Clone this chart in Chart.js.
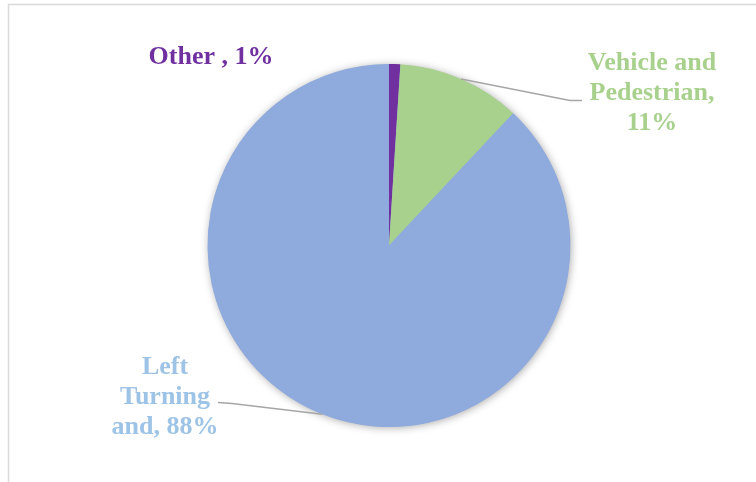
<!DOCTYPE html>
<html>
<head>
<meta charset="utf-8">
<script src="https://cdn.jsdelivr.net/npm/chart.js@4.4.0/dist/chart.umd.min.js"></script>
<style>
  html, body { margin: 0; padding: 0; background: #ffffff; }
  #wrap { position: relative; width: 756px; height: 482px; overflow: hidden; }
</style>
</head>
<body>
<div id="wrap"><canvas id="crashChart" width="756" height="482"></canvas></div>
<script>
// crash type shares
const categories = ['Other', 'Vehicle and Pedestrian', 'Left Turning and'];
const shares = [1, 11, 88];
const sliceColors = ['#7030A0', '#A9D18E', '#8FAADC'];
const textColors = ['#7030A0', '#A9D18E', '#9DC3E6'];

// label text lines per slice, value taken from shares
function labelLines(i) {
    const v = shares[i] + '%';
    if (i === 0) return ['Other , ' + v];
    if (i === 1) return ['Vehicle and', 'Pedestrian,', v];
    return ['Left', 'Turning', 'and, ' + v];
}

// where the labels sit, relative to the pie centre (px)
const labelPlace = [
    { x: -178, y: -182, leader: null },
    { x: 263, y: -176, leader: [[181, -145], [193, -145]] },
    { x: -224, y: 128, leader: [[-157, 158], [-171, 157]] }
];

// light frame around the plot
const framePlugin = {
    id: 'frame',
    beforeDraw(chart) {
        const ctx = chart.ctx;
        ctx.save();
        ctx.strokeStyle = '#D9D9D9';
        ctx.lineWidth = 1.5;
        ctx.strokeRect(8.5, 4.5, 900, 700);
        ctx.restore();
    }
};

// soft halo under the whole pie
const shadowPlugin = {
    id: 'pieShadow',
    beforeDatasetsDraw(chart) {
        const arc = chart.getDatasetMeta(0).data[0];
        if (!arc) return;
        const p = arc.getProps(['x', 'y', 'outerRadius'], true);
        const ctx = chart.ctx;
        ctx.save();
        ctx.shadowColor = 'rgba(0,0,0,0.35)';
        ctx.shadowBlur = 9;
        ctx.shadowOffsetX = 1;
        ctx.shadowOffsetY = 1;
        ctx.fillStyle = '#8FAADC';
        ctx.beginPath();
        ctx.arc(p.x, p.y, p.outerRadius - 0.5, 0, Math.PI * 2);
        ctx.fill();
        ctx.restore();
    }
};

// data labels with leader lines
const labelPlugin = {
    id: 'sliceLabels',
    afterDatasetsDraw(chart) {
        const ctx = chart.ctx;
        const arcs = chart.getDatasetMeta(0).data;
        ctx.save();
        arcs.forEach((arc, i) => {
            const p = arc.getProps(['x', 'y', 'startAngle', 'endAngle', 'outerRadius'], true);
            const place = labelPlace[i];
            if (place.leader) {
                const mid = (p.startAngle + p.endAngle) / 2;
                ctx.strokeStyle = '#A6A6A6';
                ctx.lineWidth = 1.5;
                ctx.beginPath();
                ctx.moveTo(p.x + Math.cos(mid) * p.outerRadius, p.y + Math.sin(mid) * p.outerRadius);
                place.leader.forEach(pt => ctx.lineTo(p.x + pt[0], p.y + pt[1]));
                ctx.stroke();
            }
            ctx.fillStyle = textColors[i];
            ctx.font = 'bold 26px "Liberation Serif", "Times New Roman", serif';
            ctx.textAlign = 'center';
            ctx.textBaseline = 'alphabetic';
            labelLines(i).forEach((line, k) => {
                ctx.fillText(line, p.x + place.x, p.y + place.y + k * 30);
            });
        });
        ctx.restore();
    }
};

new Chart(document.getElementById('crashChart'), {
    type: 'pie',
    data: {
        labels: categories,
        datasets: [{
            data: shares,
            backgroundColor: sliceColors,
            borderWidth: 0
        }]
    },
    options: {
        responsive: false,
        animation: false,
        layout: { padding: { top: 64, bottom: 55, left: 100, right: 78 } },
        plugins: {
            legend: { display: false },
            tooltip: { enabled: false }
        }
    },
    plugins: [framePlugin, shadowPlugin, labelPlugin]
});
</script>
</body>
</html>
